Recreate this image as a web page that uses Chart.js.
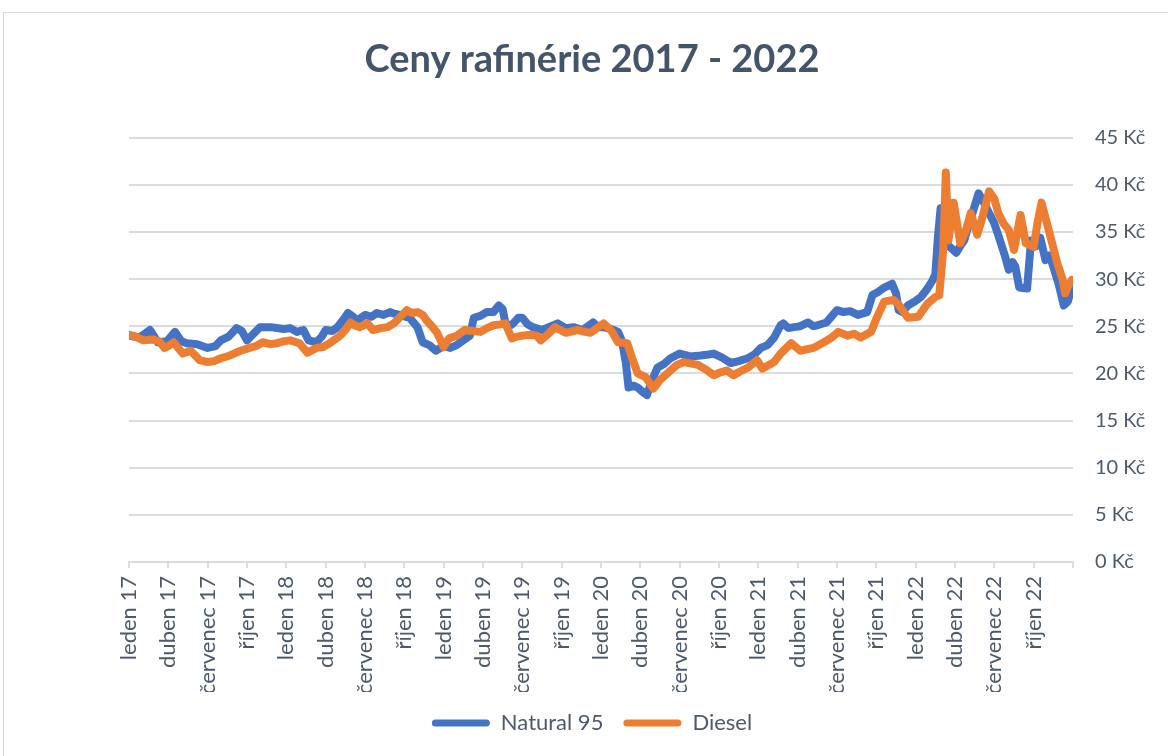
<!DOCTYPE html>
<html lang="cs">
<head>
<meta charset="utf-8">
<title>Ceny rafinérie 2017 - 2022</title>
<script src="https://cdn.jsdelivr.net/npm/chart.js@4.4.1/dist/chart.umd.min.js"></script>
<style>
  html, body { margin: 0; padding: 0; background: #fff; overflow: hidden; }
  #ramecek {
    position: absolute; left: 3px; top: 12px; width: 1200px; height: 800px;
    border: 1px solid #d9d9d9; box-sizing: border-box;
  }
  #obal { position: absolute; left: 0; top: 0; width: 1168px; height: 756px; }
</style>
</head>
<body>
<div id="ramecek"></div>
<div id="obal"><canvas id="grafCeny"></canvas></div>
<script>
  // popisky ctvrtleti na ose x (mesic 0 = leden 2017)
  const ctvrtleti = [
    "leden 17", "duben 17", "červenec 17", "říjen 17",
    "leden 18", "duben 18", "červenec 18", "říjen 18",
    "leden 19", "duben 19", "červenec 19", "říjen 19",
    "leden 20", "duben 20", "červenec 20", "říjen 20",
    "leden 21", "duben 21", "červenec 21", "říjen 21",
    "leden 22", "duben 22", "červenec 22", "říjen 22"
  ];

  // Natural 95 - mesice od ledna 2017 a cena v Kc
  const naturalMesice = [
    0, 0.8, 1.6, 2.2, 2.9, 3.5, 4.0, 4.4, 5.2, 6.0, 6.6, 7.0, 7.6, 8.2, 8.6, 9.0, 9.5, 10.0, 10.8,
    11.8, 12.3, 12.8, 13.3, 13.7, 14.3, 14.7, 15.0, 15.5, 15.9, 16.3, 16.7, 17.1, 17.4, 18.0, 18.5,
    18.9, 19.4, 19.9, 20.3, 20.7, 21.1, 21.4, 22.0, 22.4, 22.9, 23.4, 24.0, 24.5, 25.0, 25.5, 26.0,
    26.3, 26.8, 27.3, 27.8, 28.2, 28.5, 28.7, 29.0, 29.3, 29.7, 30.0, 30.4, 30.8, 31.5, 32.2, 32.7,
    33.3, 33.9, 34.6, 35.4, 35.8, 36.2, 36.8, 37.3, 37.6, 37.9, 38.1, 38.5, 38.8, 39.2, 39.5, 39.9,
    40.3, 40.8, 41.3, 42.0, 42.8, 43.6, 44.2, 44.6, 45.2, 45.9, 46.5, 47.2, 47.7, 48.2, 48.7, 49.2,
    49.7, 49.9, 50.3, 50.7, 51.2, 51.8, 52.2, 52.5, 53.2, 54.0, 54.5, 55.0, 55.6, 56.3, 56.7, 57.1,
    57.6, 58.2, 58.5, 58.7, 59.0, 59.4, 59.9, 60.4, 60.9, 61.3, 61.5, 61.7, 61.9, 62.1, 62.3, 62.7,
    63.1, 63.4, 63.7, 64.0, 64.4, 64.8, 65.2, 65.6, 66.0, 66.5, 66.8, 67.1, 67.4, 67.6, 67.9, 68.5,
    68.8, 69.2, 69.5, 69.9, 70.2, 70.5, 70.9, 71.3, 71.6, 71.9
  ];
  const naturalCeny = [
    24.0, 23.8, 24.6, 23.3, 23.4, 24.4, 23.4, 23.2, 23.1, 22.7, 22.9, 23.5, 23.9, 24.8, 24.5, 23.5, 24.2, 24.9, 24.9,
    24.7, 24.8, 24.4, 24.6, 23.5, 23.3, 23.9, 24.6, 24.5, 24.9, 25.6, 26.4, 26.0, 25.6, 26.2, 26.0,
    26.4, 26.2, 26.5, 26.3, 26.2, 26.0, 25.9, 24.9, 23.3, 23.0, 22.4, 22.9, 22.7, 23.0, 23.5, 24.0,
    25.9, 26.1, 26.5, 26.5, 27.2, 26.8, 25.4, 25.0, 25.3, 25.9, 25.9, 25.2, 24.9, 24.6, 25.0, 25.3,
    24.8, 24.9, 24.6, 25.4, 24.9, 24.9, 24.7, 24.4, 23.4, 21.1, 18.5, 18.7, 18.5, 18.0, 17.7, 19.3,
    20.6, 21.0, 21.6, 22.1, 21.8, 21.9, 22.0, 22.1, 21.7, 21.1, 21.3, 21.6, 22.0, 22.7, 23.0, 23.8,
    25.1, 25.3, 24.8, 24.9, 25.0, 25.4, 25.0, 25.1, 25.4, 26.7, 26.5, 26.6, 26.2, 26.5, 28.3, 28.6,
    29.1, 29.5, 28.5, 26.7, 26.5, 27.2, 27.6, 28.1, 29.0, 29.9, 30.5, 34.5, 37.5, 36.0, 33.8, 33.3,
    32.8, 33.5, 34.1, 35.5, 37.3, 39.1, 38.1, 37.0, 35.9, 33.8, 32.5, 31.0, 31.8, 31.3, 29.1, 29.0,
    34.1, 33.5, 34.4, 32.0, 32.5, 31.3, 29.5, 27.2, 27.6, 29.0
  ];

  // Diesel - mesice od ledna 2017 a cena v Kc
  const dieselMesice = [
    0, 0.5, 1.1, 1.8, 2.3, 2.7, 3.0, 3.4, 4.1, 4.7, 5.4, 6.0, 6.5, 7.0, 7.7, 8.5, 9.2, 9.7, 10.2,
    10.8, 11.3, 11.8, 12.3, 13.0, 13.6, 14.3, 14.8, 15.3, 16.1, 16.5, 16.9, 17.2, 17.6, 18.2, 18.6,
    19.2, 19.7, 20.2, 20.7, 21.2, 21.6, 22.0, 22.4, 22.7, 23.1, 23.5, 24.0, 24.4, 25.0, 25.6, 26.2,
    26.8, 27.3, 27.8, 28.3, 28.7, 29.2, 29.6, 30.0, 30.6, 31.1, 31.4, 32.0, 32.5, 33.3, 34.2, 34.8,
    35.2, 35.7, 36.2, 36.8, 37.3, 38.0, 38.4, 38.8, 39.4, 40.0, 40.5, 41.3, 41.8, 42.3, 43.4, 44.0,
    44.6, 45.1, 45.6, 46.1, 46.6, 47.2, 47.9, 48.3, 48.7, 49.2, 49.7, 50.5, 51.2, 52.2, 53.0, 53.6,
    54.1, 54.8, 55.3, 55.8, 56.6, 57.0, 57.6, 58.3, 58.7, 59.0, 59.4, 60.2, 60.9, 61.5, 61.8, 62.1,
    62.3, 62.5, 62.9, 63.4, 63.8, 64.2, 64.7, 65.1, 65.6, 66.0, 66.3, 66.7, 67.1, 67.5, 68.0, 68.4,
    69.0, 69.3, 69.6, 70.2, 70.8, 71.2, 71.4, 71.6, 71.9
  ];
  const dieselCeny = [
    24.1, 23.9, 23.5, 23.6, 23.4, 22.7, 22.9, 23.3, 22.1, 22.4, 21.4, 21.2, 21.3, 21.6, 21.9, 22.4, 22.7, 22.9, 23.3,
    23.1, 23.2, 23.4, 23.5, 23.2, 22.2, 22.7, 22.8, 23.2, 24.0, 24.6, 25.4, 25.1, 24.9, 25.3, 24.6,
    24.8, 24.9, 25.3, 26.0, 26.7, 26.4, 26.5, 26.2, 25.6, 25.0, 24.3, 22.8, 23.7, 24.0, 24.6, 24.5,
    24.4, 24.8, 25.1, 25.2, 25.3, 23.7, 23.9, 24.0, 24.1, 24.0, 23.5, 24.2, 24.9, 24.3, 24.6, 24.4,
    24.3, 24.8, 25.3, 24.5, 23.3, 23.2, 21.5, 20.0, 19.6, 18.4, 19.3, 20.3, 20.9, 21.2, 20.9, 20.4,
    19.8, 20.1, 20.3, 19.8, 20.2, 20.6, 21.4, 20.5, 20.8, 21.2, 22.1, 23.2, 22.4, 22.7, 23.3, 23.8,
    24.4, 24.0, 24.2, 23.8, 24.4, 25.8, 27.6, 27.8, 27.3, 26.7, 25.9, 26.0, 27.4, 28.1, 28.3, 33.1,
    41.3, 34.1, 38.1, 33.8, 35.0, 37.0, 34.7, 36.6, 39.3, 38.5, 37.0, 35.9, 35.2, 33.1, 36.8, 33.8,
    33.4, 36.0, 38.1, 34.9, 31.7, 30.0, 28.5, 29.2, 29.9
  ];

  const modra = "#4472C4";
  const oranzova = "#ED7D31";
  const barvaTextu = "#4E5A6B";
  const barvaMrizky = "#D9DCE1";

  function body(mesice, ceny) {
    return mesice.map((m, i) => ({ x: m, y: ceny[i] }));
  }

  // legenda: jen tenka zaoblena cara bez obrysu
  function popiskyLegendy(chart) {
    return Chart.defaults.plugins.legend.labels.generateLabels(chart)
      .map(p => Object.assign(p, { lineWidth: 0 }));
  }

  const ctx = document.getElementById("grafCeny").getContext("2d");
  new Chart(ctx, {
    type: "line",
    data: {
      datasets: [{
        label: "Natural 95",
        data: body(naturalMesice, naturalCeny),
        borderColor: modra,
        backgroundColor: modra,
        borderWidth: 8,
        pointRadius: 0,
        tension: 0,
        borderJoinStyle: "round",
        borderCapStyle: "round",
        order: 1
      }, {
        label: "Diesel",
        data: body(dieselMesice, dieselCeny),
        borderColor: oranzova,
        backgroundColor: oranzova,
        borderWidth: 8,
        pointRadius: 0,
        tension: 0,
        borderJoinStyle: "round",
        borderCapStyle: "round",
        order: 0
      }]
    },
    options: {
      responsive: true,
      maintainAspectRatio: false,
      animation: false,
      layout: { padding: { top: 12, left: 36, right: 20, bottom: 12 } },
      plugins: {
        title: {
          display: true,
          text: "Ceny rafinérie 2017 - 2022",
          color: "#44546A",
          font: { family: "Lato", size: 38, weight: "bold" },
          padding: { top: 25, bottom: 55 }
        },
        legend: {
          position: "bottom",
          labels: {
            color: barvaTextu,
            font: { family: "Lato", size: 22 },
            boxWidth: 58,
            boxHeight: 7,
            useBorderRadius: true,
            borderRadius: 3.5,
            padding: 20,
            generateLabels: popiskyLegendy,
            sort: (a, b) => a.datasetIndex - b.datasetIndex
          }
        },
        tooltip: { enabled: false }
      },
      scales: {
        x: {
          type: "linear",
          min: 0,
          max: 72,
          afterFit: (osa) => { osa.height = 130; },
          grid: {
            drawOnChartArea: false,
            drawTicks: true,
            tickLength: 6,
            color: barvaMrizky,
            lineWidth: 2
          },
          border: { display: true, color: barvaMrizky, width: 2 },
          ticks: {
            stepSize: 3,
            autoSkip: false,
            minRotation: 90,
            maxRotation: 90,
            padding: 8,
            color: barvaTextu,
            font: { family: "Lato", size: 22 },
            callback: (v) => ctvrtleti[v / 3] || ""
          }
        },
        y: {
          position: "right",
          min: 0,
          max: 45,
          afterFit: (osa) => { osa.width = 75; },
          grid: { color: barvaMrizky, lineWidth: 2, drawTicks: false },
          border: { display: false },
          ticks: {
            stepSize: 5,
            padding: 22,
            color: barvaTextu,
            font: { family: "Lato", size: 20 },
            callback: (v) => v + " Kč"
          }
        },
        // prazdne misto vlevo, aby nadpis a legenda byly na stredu
        vlevo: {
          type: "linear",
          position: "left",
          afterFit: (osa) => { osa.width = 93; },
          grid: { display: false },
          border: { display: false },
          ticks: { display: false }
        }
      }
    }
  });
</script>
</body>
</html>
